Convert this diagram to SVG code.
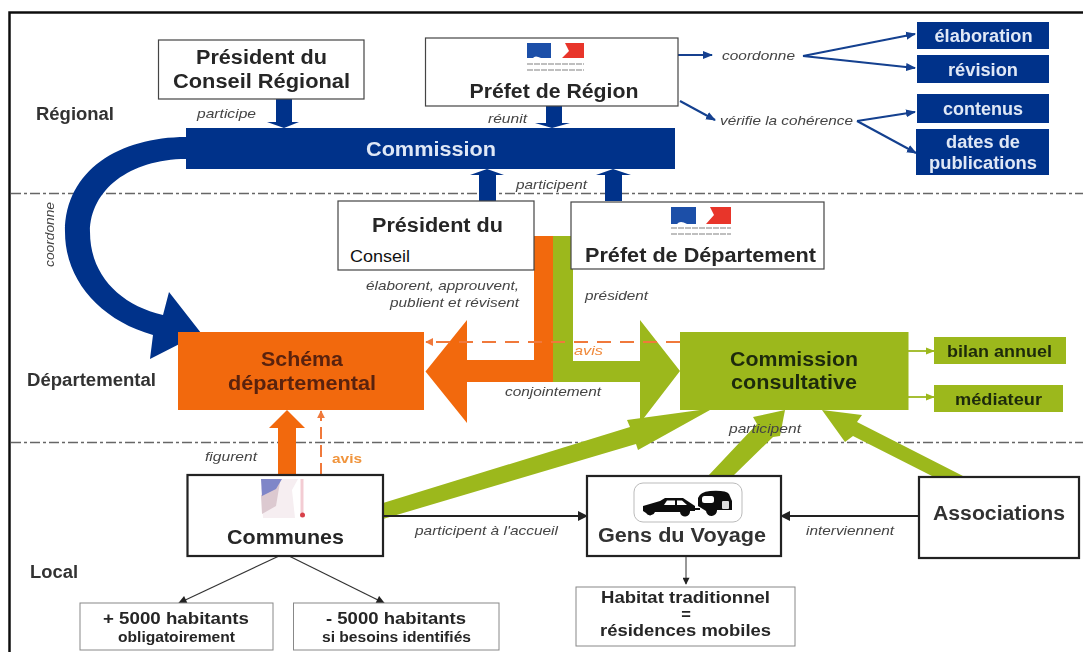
<svg xmlns="http://www.w3.org/2000/svg" width="1083" height="652" viewBox="0 0 1083 652">
<defs>
<filter id="soft" x="-2%" y="-2%" width="104%" height="104%"><feGaussianBlur stdDeviation="0.6"/></filter>
<marker id="mb" viewBox="0 0 10 10" refX="9" refY="5" markerWidth="5" markerHeight="5" orient="auto" markerUnits="strokeWidth"><path d="M0 1L10 5L0 9Z" fill="#123f8f"/></marker>
<marker id="mt" viewBox="0 0 10 10" refX="9" refY="5" markerWidth="8" markerHeight="7" orient="auto" markerUnits="strokeWidth"><path d="M0 0L10 5L0 10Z" fill="#222"/></marker>
<marker id="ms" viewBox="0 0 10 10" refX="9" refY="5" markerWidth="5" markerHeight="5" orient="auto" markerUnits="strokeWidth"><path d="M0 0L10 5L0 10Z" fill="#222"/></marker>
<marker id="mg" viewBox="0 0 10 10" refX="9" refY="5" markerWidth="5" markerHeight="5" orient="auto" markerUnits="strokeWidth"><path d="M0 1L10 5L0 9Z" fill="#9cb81c"/></marker>
<marker id="mo" viewBox="0 0 10 10" refX="9" refY="5" markerWidth="4" markerHeight="4" orient="auto" markerUnits="strokeWidth"><path d="M0 0L10 5L0 10Z" fill="#f0793a"/></marker>
</defs>
<style>
text{font-family:"Liberation Sans",Arial,sans-serif;fill:#262626}
.b{font-weight:700;text-anchor:middle}
.l{font-weight:700;font-size:18px;fill:#333}
.i{font-style:italic;font-size:13.500px;fill:#444}
.w{fill:#dfe8f6;font-weight:700;text-anchor:middle}
.box{fill:#fff;stroke:#444;stroke-width:1.2}
.hb{fill:#fff;stroke:#222;stroke-width:2.2}
.lb{fill:#fff;stroke:#888;stroke-width:1}
.dd{stroke:#666;stroke-width:1.3;stroke-dasharray:10 3 3 3;fill:none}
.tb{stroke:#123f8f;stroke-width:2;fill:none;marker-end:url(#mb)}
.tg{stroke:#9cb81c;stroke-width:1.8;fill:none;marker-end:url(#mg)}
.blue{fill:#05328a}.or{fill:#f2690f}.gr{fill:#9cb81c}
</style>
<rect width="1083" height="652" fill="#fff"/>
<g filter="url(#soft)">
<g id="frame"><path d="M9.500 652V12.500H1083" fill="none" stroke="#111" stroke-width="2.500"/></g>
<g id="levels">
<path class="dd" d="M11 193.500H1083"/><path class="dd" d="M11 442.500H1083"/>
<text class="l" x="36" y="120" textLength="78" lengthAdjust="spacingAndGlyphs">Régional</text>
<text class="l" x="27" y="386" textLength="129" lengthAdjust="spacingAndGlyphs">Départemental</text>
<text class="l" x="30" y="578" textLength="48" lengthAdjust="spacingAndGlyphs">Local</text>
</g>
<g id="connectors">
<path class="blue" d="M186 137C120 137 65 170 65 232C65 280 100 320 153 335L150 359L201 333L169 292L163 315C120 305 90 275 90 232C90 190 130 159 186 159Z"/>
<path class="blue" d="M276 99H292V122H299L284 128L267 122H276Z"/>
<path class="blue" d="M546 106H562V123H570L552 128L535 123H546Z"/>
<path class="blue" d="M479 201H496V175H504L487 169L470 175H479Z"/>
<path class="blue" d="M605 201H622V175H631L613 169L596 175H605Z"/>
<path class="gr" d="M553 236H573V361H640V320L680 371L640 423V382H553Z"/>
<path class="or" d="M534 236H553V382H467V423L425.500 371.500L467 320V360H534Z"/>
<path d="M680 342H426" fill="none" stroke="#f0793a" stroke-width="2" stroke-dasharray="14 9" marker-end="url(#mo)"/>
<path class="or" d="M278 475V428H269L287 410L305 428H296V475Z"/>
<path d="M321 475V411" fill="none" stroke="#f0793a" stroke-width="2" stroke-dasharray="12 6" marker-end="url(#mo)"/>
<path class="gr" d="M383 503L630 427L627 420L700 410H710L638 450L636 444L383 519Z"/>
<path class="gr" d="M708 476L757 424L753 417L785 410L780 436L773 437L733 476Z"/>
<path class="gr" d="M963 476L857 422L862 415L822 410L845 442L853 436L932 476Z"/>
<path class="tb" d="M678 55H712"/>
<path class="tb" d="M680 101L715 120"/>
<path class="tb" d="M803 56L915 34"/><path class="tb" d="M803 56L915 68"/>
<path class="tb" d="M857 121L915 112"/><path class="tb" d="M857 121L916 153"/>
<path class="tg" d="M908 351H934"/><path class="tg" d="M908 397H934"/>
<path d="M383 516H587" stroke="#222" stroke-width="2" fill="none" marker-end="url(#ms)"/>
<path d="M919 516H781" stroke="#222" stroke-width="2" fill="none" marker-end="url(#ms)"/>
<path d="M686 556V584" stroke="#333" stroke-width="1" fill="none" marker-end="url(#mt)"/>
<path d="M279 556L179 603" stroke="#333" stroke-width="1.200" fill="none" marker-end="url(#mt)"/>
<path d="M289 556L384 603" stroke="#333" stroke-width="1.200" fill="none" marker-end="url(#mt)"/>
</g>
<g id="edge-labels">
<text class="i" x="197" y="118" textLength="59" lengthAdjust="spacingAndGlyphs">participe</text>
<text class="i" x="488" y="123" textLength="39" lengthAdjust="spacingAndGlyphs">réunit</text>
<text class="i" x="516" y="189" textLength="71" lengthAdjust="spacingAndGlyphs">participent</text>
<text class="i" x="722" y="60" textLength="73" lengthAdjust="spacingAndGlyphs">coordonne</text>
<text class="i" x="720" y="125" textLength="133" lengthAdjust="spacingAndGlyphs">vérifie la cohérence</text>
<text class="i" transform="translate(54 267) rotate(-90)" textLength="65" lengthAdjust="spacingAndGlyphs">coordonne</text>
<text class="i" x="366" y="290" textLength="153" lengthAdjust="spacingAndGlyphs">élaborent, approuvent,</text>
<text class="i" x="390" y="307" textLength="129" lengthAdjust="spacingAndGlyphs">publient et révisent</text>
<text class="i" x="585" y="300" textLength="63" lengthAdjust="spacingAndGlyphs">président</text>
<text class="i" x="505" y="396" textLength="96" lengthAdjust="spacingAndGlyphs">conjointement</text>
<text class="i" x="574" y="355" textLength="29" lengthAdjust="spacingAndGlyphs" style="fill:#f08a3c">avis</text>
<text class="i" x="205" y="461" textLength="52" lengthAdjust="spacingAndGlyphs">figurent</text>
<text class="i" x="332" y="463" textLength="30" lengthAdjust="spacingAndGlyphs" style="fill:#f0943c;font-weight:700;font-style:normal">avis</text>
<text class="i" x="415" y="535" textLength="143" lengthAdjust="spacingAndGlyphs">participent à l'accueil</text>
<text class="i" x="806" y="535" textLength="88" lengthAdjust="spacingAndGlyphs">interviennent</text>
<text class="i" x="729" y="433" textLength="72" lengthAdjust="spacingAndGlyphs">participent</text>
</g>
<g id="president-region"><rect class="box" x="158.500" y="40" width="205.500" height="59"/>
<text class="b" x="261.500" y="64" font-size="20" textLength="131" lengthAdjust="spacingAndGlyphs">Président du</text><text class="b" x="261.500" y="88" font-size="20" textLength="177" lengthAdjust="spacingAndGlyphs">Conseil Régional</text></g>
<g id="prefet-region"><rect class="box" x="425.500" y="38" width="252.500" height="68"/>
<path d="M527 43H551V58H541Q535 55 533 58H527Z" fill="#1d4fa8"/><path d="M565 43H584V58H562L569 51Z" fill="#e8342a"/>
<path d="M527 64H584M527 70H584" stroke="#aaa" stroke-width="1.500" stroke-dasharray="6 1"/>
<text class="b" x="554" y="98" font-size="20" textLength="169" lengthAdjust="spacingAndGlyphs">Préfet de Région</text></g>
<g id="commission"><rect class="blue" x="186" y="128" width="489" height="41"/>
<text class="w" x="431" y="156" font-size="20" textLength="130" lengthAdjust="spacingAndGlyphs">Commission</text></g>
<g id="elaboration"><rect class="blue" x="917" y="22" width="132" height="27"/><text class="w" x="983.500" y="42" font-size="17.500" textLength="98" lengthAdjust="spacingAndGlyphs">élaboration</text></g>
<g id="revision"><rect class="blue" x="917" y="55" width="132" height="28"/><text class="w" x="983" y="76" font-size="17.500" textLength="70" lengthAdjust="spacingAndGlyphs">révision</text></g>
<g id="contenus"><rect class="blue" x="917" y="94" width="132" height="29"/><text class="w" x="983" y="115" font-size="17.500" textLength="80" lengthAdjust="spacingAndGlyphs">contenus</text></g>
<g id="dates"><rect class="blue" x="916" y="129" width="133" height="46"/><text class="w" x="983" y="148" font-size="17.500" textLength="74" lengthAdjust="spacingAndGlyphs">dates de</text><text class="w" x="983" y="169" font-size="17.500" textLength="108" lengthAdjust="spacingAndGlyphs">publications</text></g>
<g id="president-conseil"><rect class="box" x="338" y="201" width="196" height="69"/>
<text class="b" x="437.500" y="232" font-size="20" textLength="131" lengthAdjust="spacingAndGlyphs">Président du</text></g>
<g id="prefet-departement"><rect class="box" x="571" y="202" width="253" height="67"/>
<path d="M671 207H696V224H687Q680 220 677 224H671Z" fill="#1d4fa8"/><path d="M710 207H731V224H706L714 215Z" fill="#e8342a"/>
<path d="M671 228H731M671 234H731" stroke="#aaa" stroke-width="1.500" stroke-dasharray="6 1"/>
<text class="b" x="700.500" y="262" font-size="20" textLength="231" lengthAdjust="spacingAndGlyphs">Préfet de Département</text></g>
<g id="schema"><rect class="or" x="178" y="332" width="246" height="78"/>
<text class="b" x="302" y="366" font-size="19.500" textLength="82" lengthAdjust="spacingAndGlyphs" style="fill:#5a2308">Schéma</text><text class="b" x="302" y="390" font-size="19.500" textLength="148" lengthAdjust="spacingAndGlyphs" style="fill:#5a2308">départemental</text></g>
<g id="commission-consultative"><rect class="gr" x="680" y="332" width="228.500" height="78"/>
<text class="b" x="794" y="366" font-size="19.500" textLength="128" lengthAdjust="spacingAndGlyphs" style="fill:#1f2a08">Commission</text><text class="b" x="794" y="389" font-size="19.500" textLength="126" lengthAdjust="spacingAndGlyphs" style="fill:#1f2a08">consultative</text></g>
<g id="bilan"><rect class="gr" x="934" y="337" width="132" height="27"/><text class="b" x="999.500" y="357" font-size="17" textLength="105" lengthAdjust="spacingAndGlyphs" style="fill:#1f2a08">bilan annuel</text></g>
<g id="mediateur"><rect class="gr" x="934" y="385" width="129" height="27"/><text class="b" x="998.500" y="405" font-size="17" textLength="87" lengthAdjust="spacingAndGlyphs" style="fill:#1f2a08">médiateur</text></g>
<g id="communes"><rect class="hb" x="187.500" y="475" width="195.500" height="81"/>
<path d="M261 479H298L292 490L295 518H263Z" fill="#f6eef1"/><path d="M261 495L272 490L280 482L276 506L262 514Z" fill="#dcc9d0"/><path d="M261 479H282L276 489L262 496Z" fill="#7f86c8"/><path d="M300.500 479H303.500V513H300.500Z" fill="#f3ccd3"/><circle cx="302.500" cy="515" r="2.500" fill="#d8404a"/>
<text class="b" x="285.500" y="544" font-size="20.500" textLength="117" lengthAdjust="spacingAndGlyphs">Communes</text></g>
<g id="gens"><rect class="hb" x="587" y="476" width="194" height="80"/>
<rect x="634" y="483" width="108" height="39" rx="9" fill="#fff" stroke="#bbb"/>
<path d="M643 506L660 501L665 498H683L695 506V511L690 511A5 5 0 0 1 680 512H655A5 5 0 0 1 646 513L643 511Z" fill="#111"/>
<path d="M698 498Q700 492 710 491Q726 490 729 494L732 501V510H717A5 5 0 0 1 706 511L698 506Z" fill="#111"/>
<path d="M693 509H700" stroke="#111" stroke-width="2"/>
<path d="M667 500.500H675V505H664ZM677 500.500H682L687 505H677Z" fill="#fff"/>
<rect x="702" y="496" width="12" height="7" rx="2.500" fill="#fff"/><rect x="722" y="501" width="7" height="8" rx="1" fill="#ddd"/>
<text class="b" x="682" y="542" font-size="20" textLength="168" lengthAdjust="spacingAndGlyphs" style="fill:#333">Gens du Voyage</text></g>
<g id="associations"><rect class="hb" x="919" y="477" width="160" height="81"/>
<text class="b" x="999" y="520" font-size="20" textLength="132" lengthAdjust="spacingAndGlyphs" style="fill:#333">Associations</text></g>
<g id="habitat"><rect class="lb" x="576" y="587" width="219" height="59"/>
<text class="b" x="685.500" y="603" font-size="16.500" textLength="169" lengthAdjust="spacingAndGlyphs">Habitat traditionnel</text><text class="b" x="686" y="620" font-size="16.500">=</text><text class="b" x="685.500" y="636" font-size="16.500" textLength="171" lengthAdjust="spacingAndGlyphs">résidences mobiles</text></g>
<g id="plus5000"><rect class="lb" x="80" y="603" width="193" height="47"/>
<text class="b" x="176" y="624" font-size="16.500" textLength="146" lengthAdjust="spacingAndGlyphs">+ 5000 habitants</text><text class="b" x="176.500" y="642" font-size="14" textLength="117" lengthAdjust="spacingAndGlyphs">obligatoirement</text></g>
<g id="moins5000"><rect class="lb" x="293.500" y="603" width="205.500" height="47"/>
<text class="b" x="396" y="624" font-size="16.500" textLength="140" lengthAdjust="spacingAndGlyphs">- 5000 habitants</text><text class="b" x="396.500" y="642" font-size="14" textLength="149" lengthAdjust="spacingAndGlyphs">si besoins identifiés</text></g>
</g>
<text id="conseil-label" x="350" y="262" font-size="16.500" textLength="60" lengthAdjust="spacingAndGlyphs" style="fill:#111">Conseil</text>
</svg>
